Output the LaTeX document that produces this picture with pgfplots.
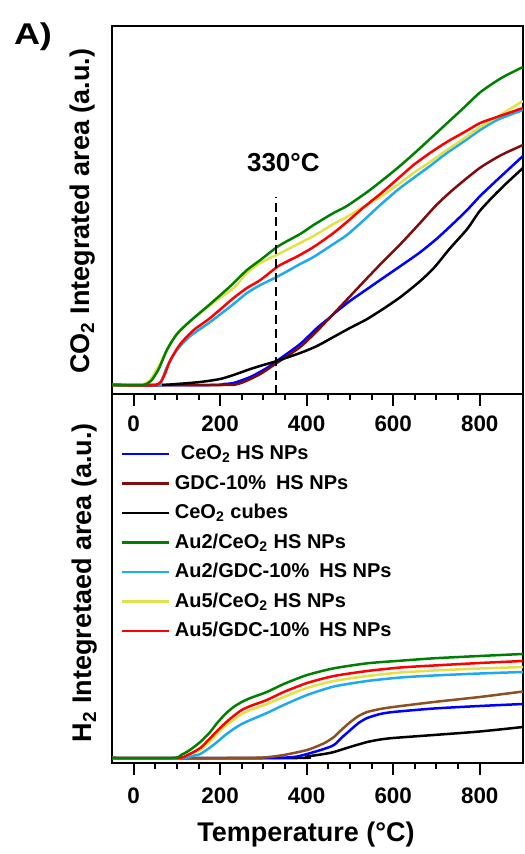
\documentclass[border=0pt]{standalone}
\usepackage{fontspec}
\setmainfont{Liberation Sans}
\usepackage{pgfplots}
\pgfplotsset{compat=1.18}

\definecolor{cblue}{RGB}{0,0,255}
\definecolor{cmaroon}{RGB}{128,12,12}
\definecolor{cbrown}{RGB}{140,80,35}
\definecolor{cgreen}{RGB}{0,128,0}
\definecolor{clblue}{RGB}{30,170,240}
\definecolor{cyellow}{RGB}{228,224,72}
\definecolor{cred}{RGB}{255,0,0}

\pgfplotsset{
  panel/.style={
    scale only axis, width=205.5pt, anchor=south west,
    xmin=-50, xmax=900, ymin=0,
    xtick={0,200,400,600,800}, minor x tick num=3,
    xtick pos=bottom, ytick=\empty, tick align=outside,
    major tick length=6pt, minor tick length=3pt,
    axis line style={line width=1pt},
    tick style={line width=1pt, black},
    /pgf/number format/assume math mode=true,
    xticklabel style={font=\fontsize{11.2}{13}\selectfont\bfseries, yshift=-1.3pt},
    label style={font=\fontsize{13.5}{15}\selectfont\bfseries},
    every axis plot/.append style={line width=1.25pt, no markers},
  },
  curve/.style={smooth, tension=0.4},
}

\begin{document}
\begin{tikzpicture}
\useasboundingbox (0,0) rectangle (262pt,427pt);

% CO2 evolution
\begin{axis}[panel, at={(56pt,230pt)}, height=184pt, ymax=368,
  ylabel={CO\textsubscript{2} Integrated area (a.u.)},
  ylabel style={at={(axis description cs:-0.0706,0.497)}, anchor=center}]
\addplot[cblue, curve] coordinates {(-50,9) (180,9) (210,10) (231,11) (270,17) (308,26) (331,33) (385,50) (424,66) (455,77) (462,80) (500,93) (540,105) (580,117) (617,128) (660,141) (700,155) (740,171) (771,184) (801,198) (840,214) (900,238)};
\addplot[cmaroon, curve] coordinates {(-50,9) (210,9) (240,10) (260,13) (293,20) (331,31) (385,47) (424,63) (455,77) (490,93) (540,116) (580,134) (617,150) (660,170) (700,189) (740,205) (800,226) (850,239) (900,249)};
\addplot[black, curve] coordinates {(-50,9) (60,9) (100,10) (154,12) (200,15) (231,19) (270,25) (300,29) (331,33) (385,41) (424,48) (462,57) (500,66) (540,75) (580,86) (617,97) (660,112) (694,126) (730,145) (771,165) (800,183) (832,198) (860,210) (900,226)};
\addplot[clblue, curve] coordinates {(-50,9) (55,9) (62,10) (77,27) (100,44) (131,58) (177,72) (231,90) (262,101) (293,109) (335,118) (385,130) (416,137) (462,150) (493,159) (530,173) (570,189) (610,204) (647,216) (685,228) (724,241) (765,253) (801,264) (840,274) (900,284)};
\addplot[cyellow, curve] coordinates {(-50,9) (15,9) (38,14) (62,31) (85,51) (116,67) (154,81) (193,94) (231,106) (262,121) (293,131) (335,140) (380,150) (416,158) (462,170) (493,177) (530,187) (570,197) (610,209) (647,221) (685,232) (724,244) (765,256) (801,267) (840,277) (900,293)};
\addplot[cred, curve] coordinates {(-50,9) (50,9) (69,17) (85,34) (108,50) (139,64) (177,76) (231,96) (262,106) (293,114) (335,128) (380,138) (416,147) (462,161) (493,172) (530,186) (570,200) (610,215) (647,229) (685,241) (724,252) (765,262) (801,271) (840,277) (900,286)};
\addplot[cgreen, curve] coordinates {(-50,9) (20,9) (40,13) (58,25) (77,44) (100,60) (131,73) (177,90) (224,108) (262,124) (293,134) (335,148) (385,160) (416,169) (462,181) (493,188) (540,202) (570,212) (610,226) (647,240) (685,255) (725,271) (765,287) (802,302) (850,316) (900,327)};
% 330 °C marker
\addplot[black, line width=1pt, dash pattern=on 4.5pt off 2.5pt] coordinates {(330,0) (330,197)};
\node[font=\fontsize{13}{15}\selectfont\bfseries] at (axis cs:346,231) {330°C};
\end{axis}

% H2 evolution
\begin{axis}[panel, at={(56pt,45.5pt)}, height=184.5pt, ymax=369,
  xticklabel style={yshift=-1.8pt},
  xlabel={Temperature (°C)},
  xlabel style={at={(axis description cs:0.472,-0.195)}, anchor=center},
  ylabel={H\textsubscript{2} Integretaed area (a.u.)},
  ylabel style={at={(axis description cs:-0.0657,0.488)}, anchor=center},
  legend style={at={(axis description cs:0.0195,0.864)}, anchor=north west,
    draw=none, fill=none, inner sep=0pt, row sep=5.25pt, column sep=2.5pt,
    font=\fontsize{10}{12}\selectfont\bfseries,
    nodes={inner sep=0pt, text height=7.5pt, text depth=2pt}},
  legend cell align=left,
  legend image code/.code={\draw[#1] (0pt,0pt) -- (23.5pt,0pt);}]
\addlegendimage{cblue, line width=1.25pt}
\addlegendentry{\hspace{3pt}CeO\textsubscript{2} HS NPs}
\addlegendimage{cmaroon, line width=1.25pt}
\addlegendentry{GDC-10\%\enspace HS NPs}
\addlegendimage{black, line width=1.25pt}
\addlegendentry{CeO\textsubscript{2} cubes}
\addlegendimage{cgreen, line width=1.25pt}
\addlegendentry{Au2/CeO\textsubscript{2} HS NPs}
\addlegendimage{clblue, line width=1.25pt}
\addlegendentry{Au2/GDC-10\%\enspace HS NPs}
\addlegendimage{cyellow, line width=1.25pt}
\addlegendentry{Au5/CeO\textsubscript{2} HS NPs}
\addlegendimage{cred, line width=1.25pt}
\addlegendentry{Au5/GDC-10\%\enspace HS NPs}

\addplot[black, curve, forget plot] coordinates {(-50,5) (380,5) (401,6.5) (440,9) (463,11) (500,16) (540,21) (570,23.5) (600,25) (694,28) (800,31.5) (900,36)};
\addplot[cblue, curve, forget plot] coordinates {(-50,5) (300,5) (370,6) (401,9) (440,14) (463,18) (480,25) (501,33) (520,40) (540,45) (570,49) (600,51) (694,54.5) (800,57) (900,59)};
\addplot[cbrown, curve, forget plot] coordinates {(-50,5) (220,5) (300,5.5) (347,8) (401,13) (440,19.7) (463,26) (480,33) (501,41) (520,47) (540,51) (570,54) (600,56) (694,61) (800,66) (900,71.5)};
\addplot[clblue, curve, forget plot] coordinates {(-50,5) (110,5) (135,7) (154,9) (175,15) (193,21) (212,28) (231,34) (250,39) (270,43) (308,50) (347,58) (401,68) (463,76.5) (540,82) (617,85.5) (694,87.5) (800,89.5) (900,91)};
\addplot[cyellow, curve, forget plot] coordinates {(-50,5) (100,5) (125,8) (154,13) (175,21) (193,29) (212,37) (231,43) (250,49) (270,53) (308,59) (347,66) (401,75) (463,82) (540,87) (617,90.5) (694,92.5) (800,94.5) (900,96)};
\addplot[cred, curve, forget plot] coordinates {(-50,5) (100,5) (125,8) (154,15) (175,24) (193,32) (212,40) (231,47) (250,53) (270,57) (308,63) (347,71) (401,80) (463,87) (540,92) (617,95.5) (694,97.5) (800,100) (900,102)};
\addplot[cgreen, curve, forget plot] coordinates {(-50,5) (90,5) (110,8) (130,13) (154,21) (175,30) (193,40) (212,49) (231,56) (250,61) (270,65) (308,71) (347,79) (401,88) (463,94.7) (540,99.7) (617,102.3) (694,104.7) (800,107) (900,109)};
\end{axis}

\node[font=\fontsize{15}{17}\selectfont\bfseries, xscale=1.2] at (16.5pt,408.5pt) {A)};
\end{tikzpicture}
\end{document}
